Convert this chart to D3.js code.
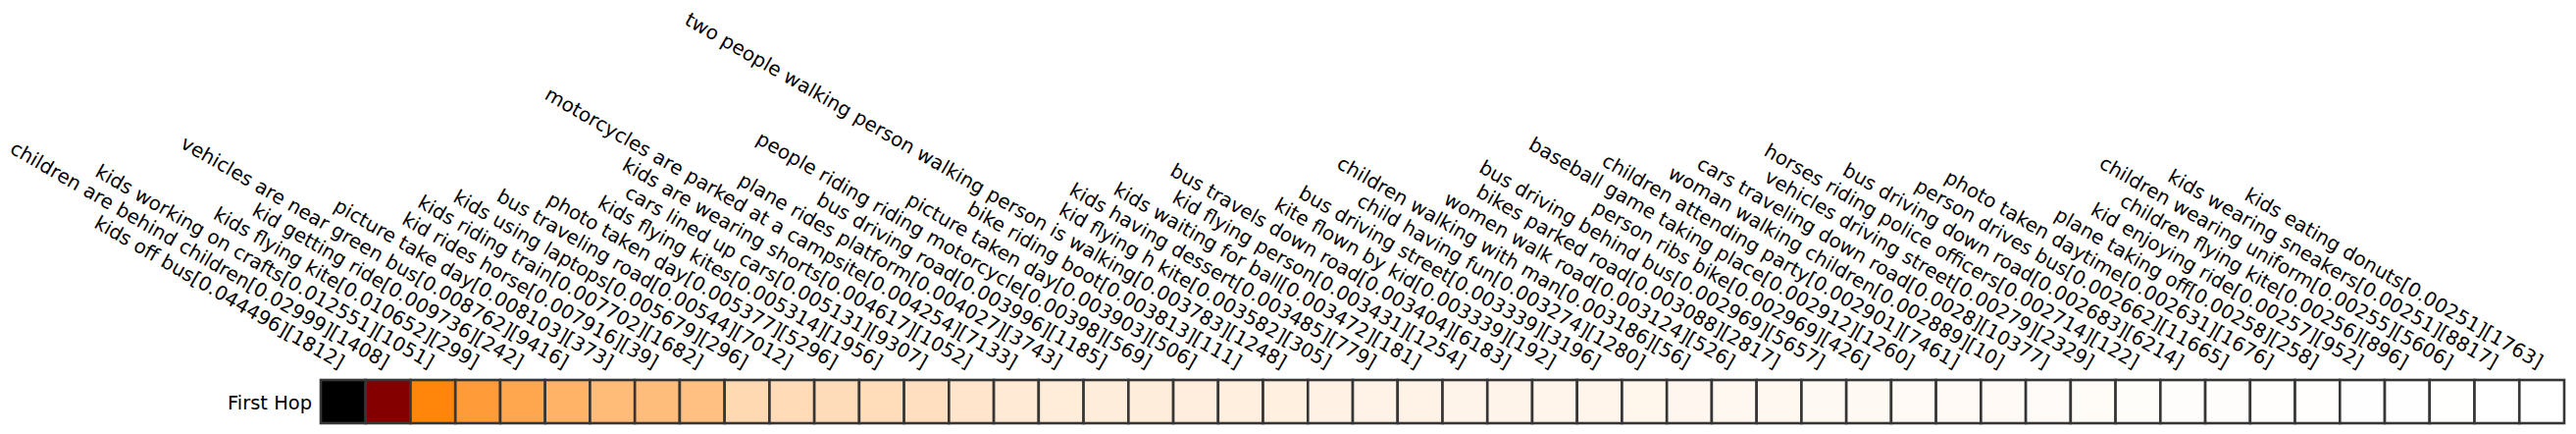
<!DOCTYPE html>
<html>
<head>
<meta charset="utf-8">
<script src="https://cdn.jsdelivr.net/npm/d3@7"></script>
<style>
  body { margin: 0; background: #ffffff; }
  svg { display: block; }
</style>
</head>
<body>
<svg id="chart" width="2626" height="442"></svg>
<script>
// ---- data ----
const phrases = [
  "kids off bus", "children are behind children", "kids working on crafts", "kids flying kite",
  "kid getting ride", "vehicles are near green bus", "picture take day", "kid rides horse",
  "kids riding train", "kids using laptops", "bus traveling road", "photo taken day",
  "kids flying kites", "cars lined up cars", "kids are wearing shorts",
  "motorcycles are parked at a campsite", "plane rides platform", "bus driving road",
  "people riding riding motorcycle", "picture taken day", "bike riding boot",
  "two people walking person walking person is walking", "kid flying h kite",
  "kids having dessert", "kids waiting for ball", "kid flying person", "bus travels down road",
  "kite flown by kid", "bus driving street", "child having fun", "children walking with man",
  "women walk road", "bikes parked road", "bus driving behind bus", "person ribs bike",
  "baseball game taking place", "children attending party", "woman walking children",
  "cars traveling down road", "vehicles driving street", "horses riding police officers",
  "bus driving down road", "person drives bus", "photo taken daytime", "plane taking off",
  "kid enjoying ride", "children flying kite", "children wearing uniform",
  "kids wearing sneakers", "kids eating donuts"
];
const scores = [
  0.044496, 0.02999, 0.012551, 0.010652, 0.009736, 0.008762, 0.008103, 0.007916, 0.007702, 0.005679,
  0.00544, 0.005377, 0.005314, 0.005131, 0.004617, 0.004254, 0.004027, 0.003996, 0.00398, 0.003903,
  0.003813, 0.003783, 0.003582, 0.003485, 0.003472, 0.003431, 0.003404, 0.003339, 0.003339, 0.003274,
  0.003186, 0.003124, 0.003088, 0.002969, 0.002969, 0.002912, 0.002901, 0.002889, 0.0028, 0.00279,
  0.002714, 0.002683, 0.002662, 0.002631, 0.00258, 0.00257, 0.00256, 0.00255, 0.00251, 0.00251
];
const counts = [
  1812, 1408, 1051, 299, 242, 9416, 373, 39, 1682, 296,
  7012, 5296, 1956, 9307, 1052, 7133, 3743, 1185, 569, 506,
  111, 1248, 305, 779, 181, 1254, 6183, 192, 3196, 1280,
  56, 526, 2817, 5657, 426, 1260, 7461, 10, 10377, 2329,
  122, 6214, 11665, 1676, 258, 952, 896, 5606, 8817, 1763
];
const rowLabels = ["First Hop"];

// ---- colour map (reversed gist_heat) ----
function gistHeatR(t) {
  const v = 1 - Math.max(0, Math.min(1, t));
  const c = z => Math.round(255 * Math.max(0, Math.min(1, z)));
  return `rgb(${c(1.5 * v)},${c(2 * v - 1)},${c(4 * v - 3)})`;
}

const FONT = "DejaVu Sans";
const FS_Y = 19.44;
const FS_X = 19.85;

const svg = d3.select("#chart");
svg.append("rect").attr("width", 2626).attr("height", 442).attr("fill", "#ffffff");

const x = d3.scaleBand().domain(d3.range(phrases.length)).range([327, 2614]).padding(0);
const y = d3.scaleBand().domain(rowLabels).range([387, 431]).padding(0);
const color = d3.scaleSequential(gistHeatR).domain([d3.min(scores), d3.max(scores)]);

// cells
svg.append("g")
  .selectAll("rect")
  .data(scores)
  .join("rect")
  .attr("x", (d, i) => x(i))
  .attr("y", y(rowLabels[0]))
  .attr("width", x.bandwidth())
  .attr("height", y.bandwidth())
  .attr("fill", d => color(d))
  .attr("stroke", "#363636")
  .attr("stroke-width", 2.6);

// top axis with rotated labels
const xAxis = d3.axisTop(x)
  .tickSize(0)
  .tickPadding(0)
  .tickFormat(i => `${phrases[i]}[${scores[i]}][${counts[i]}]`);

const gx = svg.append("g")
  .attr("transform", `translate(0,${y.range()[0]})`)
  .call(xAxis);
gx.select(".domain").remove();
gx.attr("font-family", FONT).attr("font-size", FS_X);
gx.selectAll("text")
  .attr("fill", "#000")
  .attr("text-anchor", "end")
  .attr("y", 0)
  .attr("dy", null)
  .attr("transform", "translate(-4,-11) rotate(30)");

// left axis
const gy = svg.append("g")
  .attr("transform", `translate(${x.range()[0]},0)`)
  .call(d3.axisLeft(y).tickSize(0).tickPadding(9));
gy.select(".domain").remove();
gy.attr("font-family", FONT).attr("font-size", FS_Y);
gy.selectAll("text").attr("fill", "#000").attr("dy", "0.4em");
</script>
</body>
</html>
